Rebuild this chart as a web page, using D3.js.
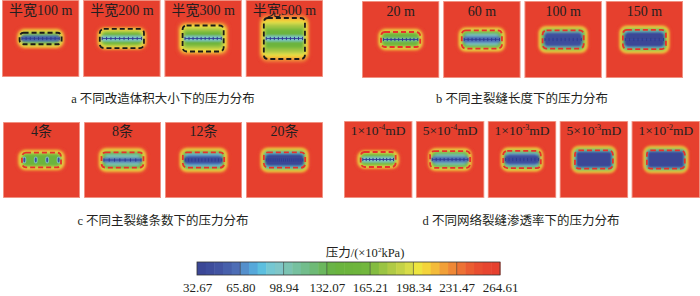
<!DOCTYPE html>
<html>
<head>
<meta charset="utf-8">
<script src="https://cdn.jsdelivr.net/npm/d3@7"></script>
<style>
  body { margin: 0; background: #fff; }
  svg text { font-family: "Liberation Serif", "Times New Roman", "Noto Sans CJK SC", serif; fill: #231f20; }
</style>
</head>
<body>
<svg id="chart" width="700" height="296"></svg>
<script>
// colour bar ticks (x10^2 kPa)
const PRESSURE_TICKS = [32.67, 65.80, 98.94, 132.07, 165.21, 198.34, 231.47, 264.61];
const PALETTE = [
  "#3b4796", "#3e4d9c", "#4254a2", "#4760ab", "#4d6db5",
  "#5590cc", "#56a8da", "#5cbfdf", "#75c7d2", "#7fc6c8",
  "#7bc3b2", "#76c09f", "#72bd8c", "#6eba76", "#6bb75e",
  "#69b446", "#6ab43e", "#6cb43c", "#6eb53c", "#72b73d",
  "#84bc40", "#9ac443", "#b0ca45", "#c4d247", "#d8dc48",
  "#eee53f", "#f4d43b", "#f3bb3a", "#f1a038", "#ef8836",
  "#ed7234", "#ea5d31", "#e84e30", "#e7452f", "#e6402e"
];

const LABELS_A = ["半宽100 m", "半宽200 m", "半宽300 m", "半宽500 m"];
const LABELS_B = ["20 m", "60 m", "100 m", "150 m"];
const LABELS_C = ["4条", "8条", "12条", "20条"];
const LABELS_D = [["1×10", "-4"], ["5×10", "-4"], ["1×10", "-3"], ["5×10", "-3"], ["1×10", "-2"]];

const CAPTIONS = [
  "a  不同改造体积大小下的压力分布",
  "b  不同主裂缝长度下的压力分布",
  "c  不同主裂缝条数下的压力分布",
  "d  不同网络裂缝渗透率下的压力分布"
];

// pressure field of each panel, in grid cells (panel = 80 x 80 cells)
// glow: outer half-size, step: ring inset, levels: ring pressures outside->in,
// box: stimulated-zone half-size, band: [pressure, half-height] along fractures
const FIELDS_A = [
  { glow: [27, 12.5], step: [1.6, 1.5], levels: [255, 240, 215, 195, 172, 140, 100], box: [21.8, 6], band: [55, 3], fractures: 10 },
  { glow: [28, 14], step: [1.6, 1.6], levels: [255, 240, 215, 195, 178, 165, 155], box: [22.9, 9.9], band: [95, 2.5], fractures: 10 },
  { glow: [28, 20], step: [1.5, 2.1], levels: [255, 240, 220, 200, 188, 175, 160, 148], box: [21.3, 13.5], band: [95, 2.5], fractures: 10 },
  { glow: [27, 27], step: [1.1, 2.4], levels: [255, 238, 222, 208, 196, 185, 172, 160, 150, 140], box: [21.3, 21.3], band: [95, 2.8], fractures: 10 }
];
const FIELDS_B = [
  { glow: [25.5, 13.5], step: [1.4, 1.4], levels: [255, 240, 215, 195, 178, 163, 155], box: [20.3, 7.8], band: [110, 1.6], fractures: 10 },
  { glow: [26.5, 15], step: [1.4, 1.4], levels: [255, 240, 215, 195, 172, 148, 115, 95], box: [20.8, 9.4], band: [60, 3.5], fractures: 10 },
  { glow: [27.5, 16], step: [1.2, 1.2], levels: [255, 240, 215, 195, 170, 140, 100, 48], box: [21.3, 9.4], band: [42, 5.5], fractures: 10 },
  { glow: [28, 16.5], step: [1.2, 1.2], levels: [255, 240, 215, 195, 170, 135, 90, 40], box: [22.3, 9.9], band: [36, 6.5], fractures: 10 }
];
const FIELDS_C = [
  { glow: [26.5, 13], step: [1.4, 1.4], levels: [255, 240, 215, 195, 178, 160, 150], box: [20.3, 7.8], band: null, fractures: 4 },
  { glow: [27, 15], step: [1.4, 1.4], levels: [255, 240, 215, 195, 172, 145, 115, 100], box: [21.8, 8], band: [60, 2.5], fractures: 8 },
  { glow: [27, 15], step: [1.3, 1.3], levels: [255, 240, 215, 195, 170, 135, 95, 70], box: [21.5, 8], band: [45, 4], fractures: 12 },
  { glow: [27, 15], step: [1.2, 1.2], levels: [255, 240, 215, 195, 168, 125, 80, 45], box: [21.5, 8], band: [36, 5.5], fractures: 20 }
];
const FIELDS_D = [
  { glow: [27, 11.5], step: [1.5, 1.2], levels: [255, 240, 215, 195, 178, 160], box: [20.5, 7.8], band: [95, 2.5], fractures: 10 },
  { glow: [28, 14], step: [1.5, 1.3], levels: [255, 240, 215, 195, 172, 145, 115, 100], box: [23.4, 8.8], band: [65, 3], fractures: 10 },
  { glow: [27, 14.5], step: [1.3, 1.2], levels: [255, 240, 215, 195, 170, 135, 95, 60], box: [22, 9], band: [45, 4.5], fractures: 10 },
  { glow: [28, 16], step: [1.0, 1.1], levels: [255, 240, 215, 195, 170, 130, 80, 36], box: [22.2, 9.4], band: null, fractures: 0 },
  { glow: [28, 16], step: [1.0, 1.1], levels: [255, 240, 215, 195, 168, 125, 70, 34], box: [22.2, 9.4], band: null, fractures: 0 }
];

const svg = d3.select("#chart");
const color = d3.scaleQuantize()
  .domain([PRESSURE_TICKS[0], PRESSURE_TICKS.at(-1)])
  .range(PALETTE);

const defs = svg.append("defs");
defs.append("filter")
  .attr("id", "soft")
  .attr("x", "-30%").attr("y", "-60%")
  .attr("width", "160%").attr("height", "220%")
  .append("feGaussianBlur")
  .attr("stdDeviation", 1.2);
defs.append("filter")
  .attr("id", "softer")
  .attr("x", "-50%").attr("y", "-50%")
  .attr("width", "200%").attr("height", "200%")
  .append("feGaussianBlur")
  .attr("stdDeviation", 0.6);

let clipId = 0;

function drawPanel(x0, w, y0, h, field, boxColor, dash) {
  const sx = d3.scaleLinear().domain([-40, 40]).range([x0, x0 + w]);
  const sy = d3.scaleLinear().domain([-40, 40]).range([y0, y0 + h]);
  const id = `clip${clipId++}`;
  defs.append("clipPath").attr("id", id)
    .append("rect").attr("x", x0).attr("y", y0).attr("width", w).attr("height", h);

  const g = svg.append("g").attr("clip-path", `url(#${id})`);
  g.append("rect")
    .attr("x", x0).attr("y", y0).attr("width", w).attr("height", h)
    .attr("fill", color(PRESSURE_TICKS.at(-1)));

  const rings = field.levels.map((p, i) => ({
    p, i,
    hw: field.glow[0] - i * field.step[0],
    hh: field.glow[1] - i * field.step[1]
  }));

  const soft = g.append("g").attr("filter", "url(#soft)");
  soft.selectAll("rect.ring")
    .data(rings)
    .join("rect")
    .attr("class", "ring")
    .attr("x", d => sx(-d.hw))
    .attr("y", d => sy(-d.hh))
    .attr("width", d => sx(d.hw) - sx(-d.hw))
    .attr("height", d => sy(d.hh) - sy(-d.hh))
    .attr("rx", d => Math.max(2.5, Math.min((sy(d.hh) - sy(-d.hh)) / 2, 9 - d.i)))
    .attr("fill", d => color(d.p));

  const fx = field.box[0] - 1.5;
  if (field.band) {
    soft.append("rect")
      .attr("x", sx(-fx)).attr("y", sy(-field.band[1]))
      .attr("width", sx(fx) - sx(-fx))
      .attr("height", sy(field.band[1]) - sy(-field.band[1]))
      .attr("rx", 1.5)
      .attr("fill", color(field.band[0]));
  }

  // fractures
  if (field.fractures > 0) {
    const fr = d3.range(field.fractures);
    const fxs = d3.scalePoint().domain(fr).range([sx(-fx + 1), sx(fx - 1)]);
    if (field.fractures <= 4) {
      g.selectAll("ellipse.frac").data(fr).join("ellipse")
        .attr("class", "frac")
        .attr("cx", d => fxs(d)).attr("cy", sy(0))
        .attr("rx", 2).attr("ry", 3.4)
        .attr("fill", color(105)).attr("filter", "url(#softer)");
      g.selectAll("ellipse.core").data(fr).join("ellipse")
        .attr("class", "core")
        .attr("cx", d => fxs(d)).attr("cy", sy(0))
        .attr("rx", 1).attr("ry", 2.4)
        .attr("fill", color(45));
    } else {
      g.append("line")
        .attr("x1", sx(-fx + 1)).attr("x2", sx(fx - 1))
        .attr("y1", sy(0)).attr("y2", sy(0))
        .attr("stroke", "#3a4aa0").attr("stroke-width", 1);
      g.selectAll("line.tick").data(fr).join("line")
        .attr("class", "tick")
        .attr("x1", d => fxs(d)).attr("x2", d => fxs(d))
        .attr("y1", sy(0) - 1.6).attr("y2", sy(0) + 1.6)
        .attr("stroke", "#2e3b90").attr("stroke-width", 1);
    }
  }

  g.append("rect")
    .attr("x", sx(-field.box[0])).attr("y", sy(-field.box[1]))
    .attr("width", sx(field.box[0]) - sx(-field.box[0]))
    .attr("height", sy(field.box[1]) - sy(-field.box[1]))
    .attr("rx", 4)
    .attr("fill", "none")
    .attr("stroke", boxColor)
    .attr("stroke-width", 1.8)
    .attr("stroke-dasharray", dash);

  svg.append("rect")
    .attr("x", x0 + 0.4).attr("y", y0 + 0.4).attr("width", w - 0.8).attr("height", h - 0.8)
    .attr("fill", "none").attr("stroke", "#f3a597").attr("stroke-width", 0.8);
}

function drawRow(labels, fields, range, y0, h, boxColor, dash, labelY) {
  const band = d3.scaleBand().domain(d3.range(fields.length)).range(range).paddingInner(0.05);
  fields.forEach((f, i) => {
    drawPanel(band(i), band.bandwidth(), y0, h, f, boxColor, dash);
    const t = svg.append("text")
      .attr("x", band(i) + band.bandwidth() / 2)
      .attr("y", labelY)
      .attr("text-anchor", "middle")
      .attr("font-size", 14);
    const lab = labels[i];
    if (Array.isArray(lab)) {
      t.attr("font-size", 13.5);
      t.append("tspan").text(lab[0]);
      t.append("tspan").attr("font-size", 8).attr("dy", -5).text(lab[1]);
      t.append("tspan").attr("dy", 5).text("mD");
    } else {
      t.text(lab);
    }
  });
}

drawRow(LABELS_A, FIELDS_A, [2, 323], 0, 77, "#1a1a1a", "5 3", 15);
drawRow(LABELS_B, FIELDS_B, [362, 683], 1, 77, "#e8302a", "5 3", 16);
drawRow(LABELS_C, FIELDS_C, [3, 323], 122, 76, "#e8302a", "5 3", 136);
drawRow(LABELS_D, FIELDS_D, [344, 700], 121, 77, "#e8302a", "5 3", 135);

// captions
const capPos = [[163, 103], [522, 103], [163, 225], [521, 225]];
CAPTIONS.forEach((c, i) => {
  svg.append("text")
    .attr("x", capPos[i][0]).attr("y", capPos[i][1])
    .attr("text-anchor", "middle")
    .attr("font-size", 12.5)
    .text(c);
});

// colour bar
const cb = d3.scaleLinear().domain([PRESSURE_TICKS[0], PRESSURE_TICKS.at(-1)]).range([197, 500]);
const cbY = 262, cbH = 13;
svg.append("g").selectAll("rect")
  .data(PALETTE)
  .join("rect")
  .attr("x", d => cb(color.invertExtent(d)[0]))
  .attr("y", cbY)
  .attr("width", d => cb(color.invertExtent(d)[1]) - cb(color.invertExtent(d)[0]) + 0.5)
  .attr("height", cbH)
  .attr("fill", d => d);

svg.append("g").selectAll("line")
  .data(PRESSURE_TICKS.slice(1, -1))
  .join("line")
  .attr("x1", d => cb(d)).attr("x2", d => cb(d))
  .attr("y1", cbY).attr("y2", cbY + cbH)
  .attr("stroke", "#3a3a3a").attr("stroke-opacity", 0.7).attr("stroke-width", 0.8);

svg.append("rect")
  .attr("x", cb.range()[0]).attr("y", cbY)
  .attr("width", cb.range()[1] - cb.range()[0]).attr("height", cbH)
  .attr("fill", "none").attr("stroke", "#333").attr("stroke-width", 0.8);

svg.append("g")
  .attr("transform", `translate(0,${cbY + cbH + 5})`)
  .call(d3.axisBottom(cb).tickValues(PRESSURE_TICKS).tickSize(0).tickFormat(d3.format(".2f")))
  .call(g => g.select(".domain").remove())
  .call(g => g.selectAll("text")
    .attr("font-size", 13)
    .attr("font-family", "Liberation Serif, Times New Roman, serif")
    .attr("fill", "#231f20"));

const title = svg.append("text")
  .attr("x", 365).attr("y", 257)
  .attr("text-anchor", "middle")
  .attr("font-size", 12.5);
title.append("tspan").text("压力/(×10");
title.append("tspan").attr("font-size", 7).attr("dy", -5).text("2");
title.append("tspan").attr("dy", 5).text("kPa)");
</script>
</body>
</html>
